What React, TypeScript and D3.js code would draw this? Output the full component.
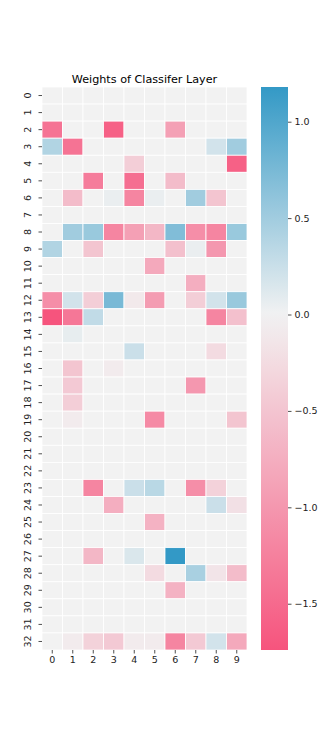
import React, { useRef, useEffect } from 'react';
import * as d3 from 'd3';

// weights, one array per row (rows 0..32), columns 0..9
const rows = d3.range(33);
const cols = d3.range(10);
const weights: number[][] = [
  [0, 0, 0, 0, 0, 0, 0, 0, 0, 0],
  [0, 0, 0, 0, 0, 0, 0, 0, 0, 0],
  [-1.4, 0, 0, -1.6, 0, 0, -0.9, 0, 0, 0],
  [0.4, -1.4, 0, 0, 0, 0, 0, 0, 0.2, 0.5],
  [0, 0, 0, 0, -0.4, 0, 0, 0, 0, -1.6],
  [0, 0, -1.3, 0, -1.45, 0, -0.6, 0, 0, 0],
  [0, -0.6, 0, 0.05, -1.2, 0.05, 0, 0.5, -0.5, 0],
  [0, 0, 0, 0, 0, 0, 0, 0, 0, 0],
  [0, 0.5, 0.55, -1.2, -0.9, -0.65, 0.7, -1.1, -1.2, 0.55],
  [0.4, 0, -0.5, 0, 0, 0, -0.55, 0.05, -1.0, 0],
  [0, 0, 0, 0, 0, -0.8, 0, 0, 0, 0],
  [0, 0, 0, 0, 0, 0, 0, -0.75, 0, 0],
  [-1.1, 0.2, -0.4, 0.75, -0.1, -0.95, 0, -0.4, 0.2, 0.55],
  [-1.75, -1.35, 0.3, 0, 0, 0, 0, 0, -1.2, -0.55],
  [0, 0.07, 0, 0, 0, 0, 0, 0, 0, 0],
  [0, 0, 0, 0, 0.25, 0, 0, 0, -0.25, 0],
  [0, -0.5, 0, -0.08, 0, 0, 0, 0, 0, 0],
  [0, -0.45, 0, 0, 0, 0, 0, -1.0, 0, 0],
  [0, -0.4, 0, 0, 0, 0, 0, 0, 0, 0],
  [0, -0.08, 0, 0, 0, -1.15, 0, 0, 0, -0.5],
  [0, 0, 0, 0, 0, 0, 0, 0, 0, 0],
  [0, 0, 0, 0, 0, 0, 0, 0, 0, 0],
  [0, 0, 0, 0, 0, 0, 0, 0, 0, 0],
  [0, 0, -1.2, 0, 0.25, 0.35, 0, -1.1, -0.35, 0],
  [0, 0, 0, -0.75, 0, 0, 0, 0, 0.25, -0.2],
  [0, 0, 0, 0, 0, -0.7, 0, 0, 0, 0],
  [0, 0, 0, 0, 0, 0, 0, 0, 0, 0],
  [0, 0, -0.65, 0, 0.15, 0, 1.18, 0, 0, 0],
  [0, 0, 0, 0, 0, -0.25, 0, 0.45, -0.15, -0.6],
  [0, 0, 0, 0, 0, 0, -0.7, 0, 0, 0],
  [0, 0, 0, 0, 0, 0, 0, 0, 0, 0],
  [0, 0, 0, 0, 0, 0, 0, 0, 0, 0],
  [0, -0.08, -0.35, -0.45, -0.08, -0.08, -1.2, -0.45, 0.2, -0.8],
];
const barTicks = [1.0, 0.5, 0.0, -0.5, -1.0, -1.5];
const vmin = -1.74;
const vmax = 1.18;

const App = () => {
  const svgRef = useRef<SVGSVGElement>(null);

  useEffect(() => {
    const svg = d3.select(svgRef.current);
    svg.selectAll("*").remove();

    const font = "DejaVu Sans, sans-serif";
    const left = 42, right = 247, top = 87, bottom = 650;

    const x = d3.scaleBand<number>().domain(cols).range([left, right]);
    const y = d3.scaleBand<number>().domain(rows).range([top, bottom]);

    // diverging palette: pink -> light gray -> blue
    const color = d3.scaleLinear<string>()
      .domain([vmin, 0, vmax])
      .range(["#f6547d", "#f2f2f2", "#3399c6"])
      .interpolate(d3.interpolateRgb)
      .clamp(true);

    // Cells
    const cells: { r: number; c: number; v: number }[] = [];
    rows.forEach(r => cols.forEach(c => cells.push({ r, c, v: weights[r][c] })));
    svg.append("g")
      .selectAll("rect")
      .data(cells)
      .enter()
      .append("rect")
      .attr("x", d => x(d.c)!)
      .attr("y", d => y(d.r)!)
      .attr("width", x.bandwidth())
      .attr("height", y.bandwidth())
      .attr("fill", d => color(d.v))
      .attr("stroke", "white")
      .attr("stroke-width", 0.8);

    // Title
    svg.append("text")
      .attr("x", (left + right) / 2)
      .attr("y", 82.5)
      .attr("text-anchor", "middle")
      .style("font-family", font)
      .style("font-size", "11.2px")
      .text("Weights of Classifer Layer");

    // Axes
    const yAxis = svg.append("g")
      .attr("transform", `translate(${left}, 0)`)
      .call(d3.axisLeft(y).tickSize(3.5).tickPadding(3));
    yAxis.select(".domain").remove();
    yAxis.selectAll("line").attr("stroke", "#222").attr("stroke-width", 0.8);
    yAxis.selectAll("text")
      .style("font-family", font)
      .style("font-size", "9.5px")
      .attr("fill", "#222")
      .attr("x", 0).attr("y", 0).attr("dy", 0)
      .attr("text-anchor", "middle")
      .attr("transform", "translate(-14.5, 0) rotate(-90)")
      .attr("dominant-baseline", "central");

    const xAxis = svg.append("g")
      .attr("transform", `translate(0, ${bottom})`)
      .call(d3.axisBottom(x).tickSize(3.5).tickPadding(3));
    xAxis.select(".domain").remove();
    xAxis.selectAll("line").attr("stroke", "#222").attr("stroke-width", 0.8);
    xAxis.selectAll("text")
      .style("font-family", font)
      .style("font-size", "9.5px")
      .attr("fill", "#222");

    // Colorbar
    const cbX = 261, cbW = 27;
    const cbScale = d3.scaleLinear().domain([vmin, vmax]).range([bottom, top]);
    const defs = svg.append("defs");
    const grad = defs.append("linearGradient")
      .attr("id", "cbgrad")
      .attr("x1", 0).attr("y1", 1).attr("x2", 0).attr("y2", 0);
    d3.range(0, 1.0001, 0.05).forEach(t => {
      const v = vmin + t * (vmax - vmin);
      grad.append("stop").attr("offset", t).attr("stop-color", color(v));
    });
    svg.append("rect")
      .attr("x", cbX)
      .attr("y", top)
      .attr("width", cbW)
      .attr("height", bottom - top)
      .attr("fill", "url(#cbgrad)");

    const cbAxis = svg.append("g")
      .attr("transform", `translate(${cbX + cbW}, 0)`)
      .call(d3.axisRight(cbScale).tickValues(barTicks).tickSize(3.5).tickPadding(3)
        .tickFormat(d => d3.format(".1f")(d as number).replace("-", "\u2212")));
    cbAxis.select(".domain").remove();
    cbAxis.selectAll("line").attr("stroke", "#222").attr("stroke-width", 0.8);
    cbAxis.selectAll("text")
      .style("font-family", font)
      .style("font-size", "9.5px")
      .attr("fill", "#222");
  }, []);

  return (
    <svg ref={svgRef} width={332} height={731}
      style={{ display: "block", position: "absolute", left: 0, top: 0 }}></svg>
  );
};

export default App;
